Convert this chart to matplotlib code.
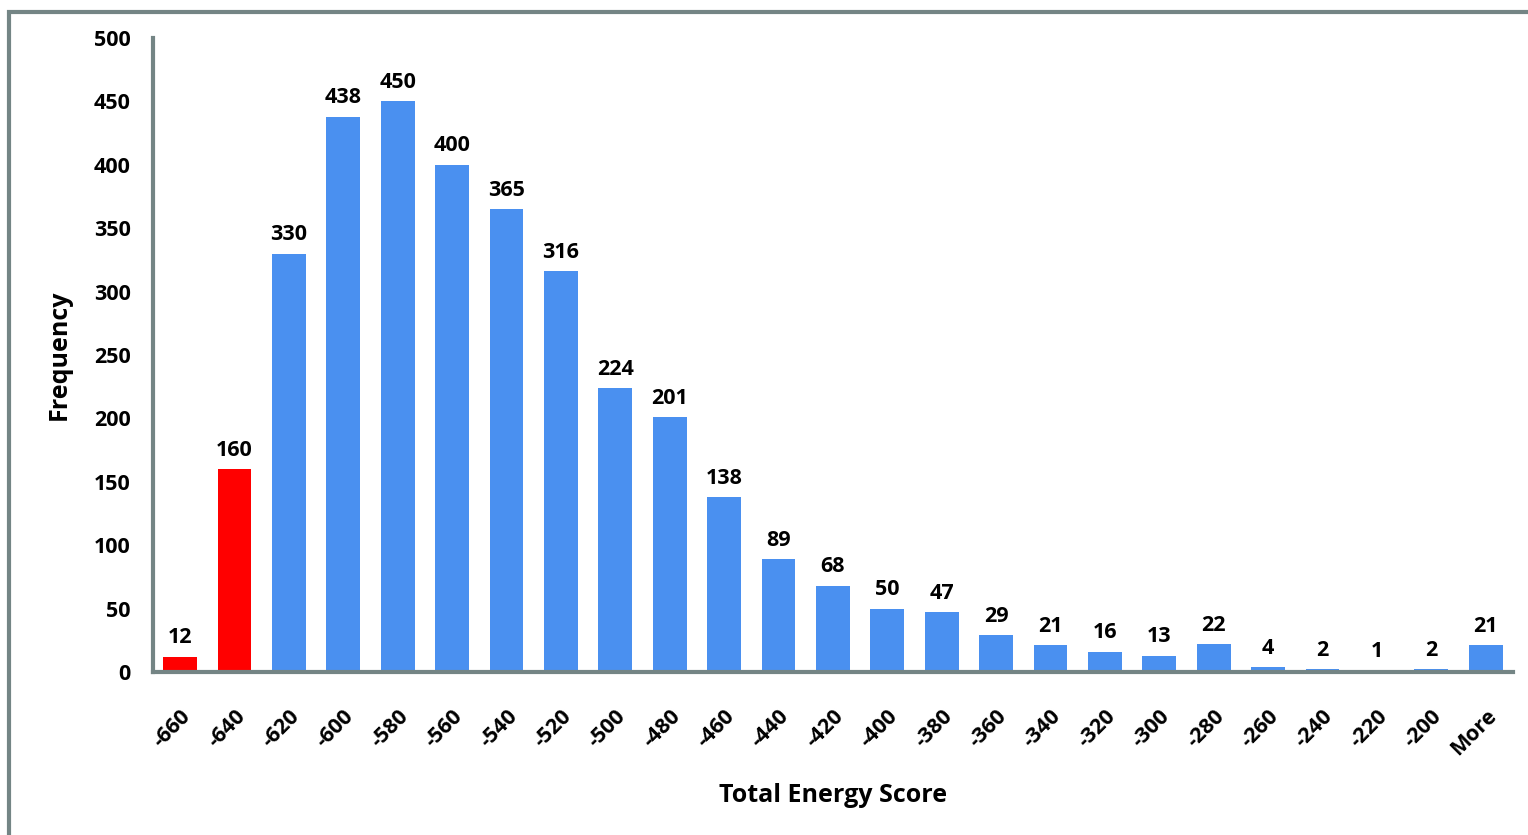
import matplotlib
matplotlib.use("Agg")
import matplotlib.pyplot as plt
from matplotlib.patches import Rectangle

# histogram bins and counts
bins = ["-660", "-640", "-620", "-600", "-580", "-560", "-540", "-520", "-500",
        "-480", "-460", "-440", "-420", "-400", "-380", "-360", "-340", "-320",
        "-300", "-280", "-260", "-240", "-220", "-200", "More"]
counts = [12, 160, 330, 438, 450, 400, 365, 316, 224, 201, 138, 89, 68, 50, 47,
          29, 21, 16, 13, 22, 4, 2, 1, 2, 21]
highlight = ["-660", "-640"]

plt.rcParams['font.family'] = ['Open Sans', 'DejaVu Sans']
plt.rcParams['font.weight'] = 'bold'

blue = "#4a90f0"
red = "#ff0000"
grey = "#748585"

fig = plt.figure(figsize=(15.28, 8.35), dpi=100)
ax = fig.add_axes([0.1001, 0.1952, 0.8900, 0.7593])

x = list(range(len(bins)))
colors = [red if b in highlight else blue for b in bins]
bars = ax.bar(x, counts, width=0.62, color=colors, zorder=2)

for xi, c in zip(x, counts):
    ax.annotate(str(c), (xi, c), xytext=(0, 6), textcoords="offset points",
                ha="center", va="bottom", fontsize=15.5, fontweight="bold")

ax.set_xlim(-0.5, len(bins) - 0.5)
ax.set_ylim(0, 500)
ax.set_yticks(range(0, 501, 50))
ax.set_xticks(x)
ax.set_xticklabels(bins, rotation=45, ha="right", rotation_mode="anchor")
ax.tick_params(axis="both", length=0, labelsize=15.5)
ax.tick_params(axis="x", pad=24)
ax.tick_params(axis="y", pad=16)
for lbl in ax.get_xticklabels() + ax.get_yticklabels():
    lbl.set_fontweight("bold")

for s in ["top", "right"]:
    ax.spines[s].set_visible(False)
for s in ["left", "bottom"]:
    ax.spines[s].set_color(grey)
    ax.spines[s].set_linewidth(3)

ax.set_xlabel("Total Energy Score", fontsize=18, fontweight="bold", labelpad=17)
ax.set_ylabel("Frequency", fontsize=18, fontweight="bold", labelpad=16)

# outer frame, clipped by the image edges on right and bottom
fig.add_artist(Rectangle((9 / 1528, -0.05), 1.2, 1 - 12 / 835 + 0.05,
                         transform=fig.transFigure, fill=False,
                         edgecolor=grey, linewidth=3))

fig.savefig("out.png", dpi=100)
